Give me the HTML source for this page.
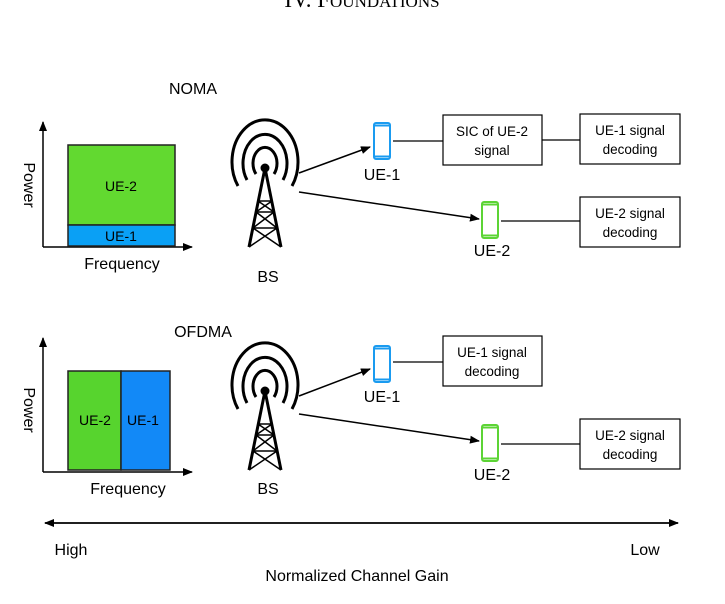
<!DOCTYPE html>
<html><head><style>
html,body{margin:0;padding:0;background:#fff;}
svg{display:block;font-family:"Liberation Sans",Arial,sans-serif;}
</style></head><body>
<svg width="725" height="604" viewBox="0 0 725 604" xmlns="http://www.w3.org/2000/svg">
<defs>
<marker id="ah" markerWidth="10" markerHeight="8" refX="9" refY="4" orient="auto" markerUnits="userSpaceOnUse">
<path d="M0,0 L10,4 L0,8 z" fill="#000"/></marker>
<g id="tower" fill="none" stroke="#000" stroke-width="3">
<path d="M-27,18 A33,42 0 1 1 27,18"/>
<path d="M-18,12 A22,29 0 1 1 18,12"/>
<path d="M-9,6 A12,16 0 1 1 9,6"/>
<circle cx="0" cy="0" r="3" fill="#000"/>
<path d="M0,0 L-16,79 M0,0 L16,79" stroke-width="3"/>
<path d="M-7,33 L7,33 M-9,44 L9,44 M-12,60 L12,60 M-7,33 L9,44 M7,33 L-9,44 M-9,44 L12,60 M9,44 L-12,60 M-12,60 L16,79 M12,60 L-16,79" stroke-width="1.5"/>
</g>
<g id="phoneB"><rect x="1" y="1" width="16" height="36" rx="2" fill="#fff" stroke="#1a9bf0" stroke-width="2"/><line x1="2" y1="3.5" x2="16" y2="3.5" stroke="#1a9bf0" stroke-width="2"/><line x1="2" y1="34.5" x2="16" y2="34.5" stroke="#1a9bf0" stroke-width="2"/></g>
<g id="phoneG"><rect x="1" y="1" width="16" height="36" rx="2" fill="#fff" stroke="#5cd435" stroke-width="2"/><line x1="2" y1="3.5" x2="16" y2="3.5" stroke="#5cd435" stroke-width="2"/><line x1="2" y1="34.5" x2="16" y2="34.5" stroke="#5cd435" stroke-width="2"/></g>
</defs>
<text x="362" y="7" text-anchor="middle" font-family="Liberation Serif,serif" font-size="23">IV. F<tspan font-size="17">OUNDATIONS</tspan></text>

<!-- NOMA -->
<text x="193" y="94" text-anchor="middle" font-size="16">NOMA</text>
<line x1="43" y1="247" x2="43" y2="122" stroke="#000" stroke-width="1.5" marker-end="url(#ah)"/>
<line x1="43" y1="247" x2="192" y2="247" stroke="#000" stroke-width="1.5" marker-end="url(#ah)"/>
<rect x="68" y="145" width="107" height="80" fill="#62d930" stroke="#222" stroke-width="1.5"/>
<rect x="68" y="225" width="107" height="21" fill="#0aa0f5" stroke="#222" stroke-width="1.5"/>
<text x="121" y="191" text-anchor="middle" font-size="14">UE-2</text>
<text x="121" y="241" text-anchor="middle" font-size="14">UE-1</text>
<text transform="translate(24,185) rotate(90)" text-anchor="middle" font-size="16">Power</text>
<text x="122" y="269" text-anchor="middle" font-size="16">Frequency</text>
<use href="#tower" x="265" y="168"/>
<text x="268" y="282" text-anchor="middle" font-size="16">BS</text>
<line x1="299" y1="173" x2="370" y2="147" stroke="#000" stroke-width="1.5" marker-end="url(#ah)"/>
<line x1="299" y1="192" x2="479" y2="219" stroke="#000" stroke-width="1.5" marker-end="url(#ah)"/>
<use href="#phoneB" x="373" y="122"/>
<use href="#phoneG" x="481" y="201"/>
<text x="382" y="180" text-anchor="middle" font-size="16">UE-1</text>
<text x="492" y="256" text-anchor="middle" font-size="16">UE-2</text>
<line x1="393" y1="141" x2="443" y2="141" stroke="#000" stroke-width="1.2"/>
<line x1="542" y1="140" x2="580" y2="140" stroke="#000" stroke-width="1.2"/>
<line x1="501" y1="221" x2="580" y2="221" stroke="#000" stroke-width="1.2"/>
<rect x="443" y="115" width="99" height="50" fill="#fff" stroke="#000" stroke-width="1.2"/>
<rect x="580" y="114" width="100" height="50" fill="#fff" stroke="#000" stroke-width="1.2"/>
<rect x="580" y="197" width="100" height="50" fill="#fff" stroke="#000" stroke-width="1.2"/>
<text font-size="13.5" text-anchor="middle"><tspan x="492" y="136">SIC of UE-2</tspan><tspan x="492" y="155">signal</tspan></text>
<text font-size="13.5" text-anchor="middle"><tspan x="630" y="135">UE-1 signal</tspan><tspan x="630" y="154">decoding</tspan></text>
<text font-size="13.5" text-anchor="middle"><tspan x="630" y="218">UE-2 signal</tspan><tspan x="630" y="237">decoding</tspan></text>

<!-- OFDMA -->
<text x="203" y="337" text-anchor="middle" font-size="16">OFDMA</text>
<line x1="43" y1="472" x2="43" y2="338" stroke="#000" stroke-width="1.5" marker-end="url(#ah)"/>
<line x1="43" y1="472" x2="192" y2="472" stroke="#000" stroke-width="1.5" marker-end="url(#ah)"/>
<rect x="68" y="371" width="53" height="99" fill="#57d42e" stroke="#222" stroke-width="1.5"/>
<rect x="121" y="371" width="49" height="99" fill="#1289f7" stroke="#222" stroke-width="1.5"/>
<text x="95" y="425" text-anchor="middle" font-size="14">UE-2</text>
<text x="143" y="425" text-anchor="middle" font-size="14">UE-1</text>
<text transform="translate(24,410) rotate(90)" text-anchor="middle" font-size="16">Power</text>
<text x="128" y="494" text-anchor="middle" font-size="16">Frequency</text>
<use href="#tower" x="265" y="391"/>
<text x="268" y="494" text-anchor="middle" font-size="16">BS</text>
<line x1="299" y1="396" x2="370" y2="369" stroke="#000" stroke-width="1.5" marker-end="url(#ah)"/>
<line x1="299" y1="414" x2="479" y2="441" stroke="#000" stroke-width="1.5" marker-end="url(#ah)"/>
<use href="#phoneB" x="373" y="345"/>
<use href="#phoneG" x="481" y="424"/>
<text x="382" y="402" text-anchor="middle" font-size="16">UE-1</text>
<text x="492" y="480" text-anchor="middle" font-size="16">UE-2</text>
<line x1="393" y1="362" x2="443" y2="362" stroke="#000" stroke-width="1.2"/>
<line x1="501" y1="444" x2="580" y2="444" stroke="#000" stroke-width="1.2"/>
<rect x="443" y="336" width="99" height="50" fill="#fff" stroke="#000" stroke-width="1.2"/>
<rect x="580" y="419" width="100" height="50" fill="#fff" stroke="#000" stroke-width="1.2"/>
<text font-size="13.5" text-anchor="middle"><tspan x="492" y="357">UE-1 signal</tspan><tspan x="492" y="376">decoding</tspan></text>
<text font-size="13.5" text-anchor="middle"><tspan x="630" y="440">UE-2 signal</tspan><tspan x="630" y="459">decoding</tspan></text>

<!-- bottom -->
<line x1="45" y1="523" x2="678" y2="523" stroke="#000" stroke-width="1.5" marker-end="url(#ah)"/>
<line x1="678" y1="523" x2="45" y2="523" stroke="#000" stroke-width="1.5" marker-end="url(#ah)"/>
<text x="71" y="555" text-anchor="middle" font-size="16">High</text>
<text x="645" y="555" text-anchor="middle" font-size="16">Low</text>
<text x="357" y="581" text-anchor="middle" font-size="16">Normalized Channel Gain</text>
</svg>
</body></html>
